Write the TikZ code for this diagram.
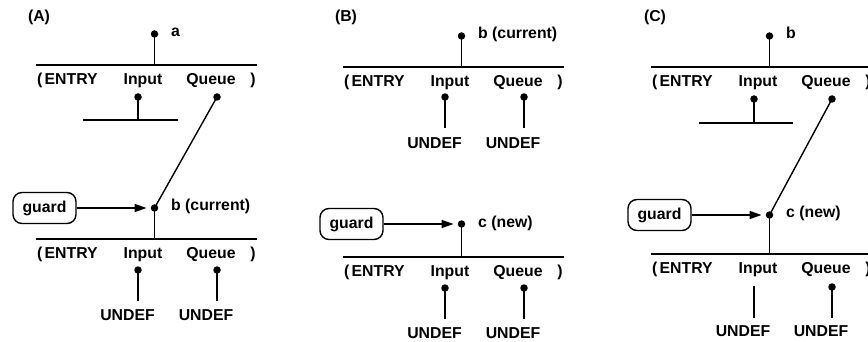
\documentclass[tikz,border=0pt]{standalone}
\usepackage{fontspec}
\setmainfont{Liberation Sans}
\usetikzlibrary{arrows.meta}

\tikzset{
  dot/.style={circle,fill,inner sep=0pt,minimum size=7.5pt},
  txt/.style={inner sep=0pt,font=\fontsize{15.8}{19}\selectfont\bfseries},
  wire/.style={line width=1.4pt},
  guardbox/.style={draw,line width=1.4pt,rounded corners=9pt,minimum width=63pt,
    minimum height=31pt,inner sep=0pt,font=\fontsize{15.8}{19}\selectfont\bfseries},
  arr/.style={line width=1.4pt,-{Triangle[length=12pt,width=8pt]},shorten >=4pt},
}

% One record: the bar with its field names underneath.
% #1 = name prefix, #2 = y of the bar
\newcommand\recrow[2]{%
  \coordinate (#1L) at (36,#2);
  \coordinate (#1R) at (257,#2);
  \draw[wire] (#1L) -- (#1R);
  \node[txt,anchor=base west] (#1po) at (37,{#2+19.5}) {(};
  \node[txt,anchor=base west] (#1en) at (44.5,{#2+19.5}) {ENTRY};
  \node[txt,anchor=base] (#1in) at (143,{#2+19.5}) {Input};
  \node[txt,anchor=base] (#1qu) at (211,{#2+19.5}) {Queue};
  \node[txt,anchor=base] (#1pc) at (253,{#2+19.5}) {)};
}

\begin{document}
\begin{tikzpicture}[x=1pt,y=-1pt]
\useasboundingbox (0,0) rectangle (868,342);

% ---------------- (A) ----------------
\begin{scope}
  \node[txt,anchor=base] (Alab) at (39,22) {(A)};
  \node[dot] (Aa) at (154.5,34) {};
  \node[txt,anchor=base west] (Aalab) at (171,37) {a};
  \recrow{Aone}{65}
  \draw[wire] (Aa.center) -- (Aa.center |- AoneL);
  \node[dot] (Aonein) at (138,97) {};
  \node[dot] (Aoneq) at (217,97) {};
  \coordinate (Asubl) at (83,120);
  \coordinate (Asubr) at (178,120);
  \draw[wire] (Asubl) -- (Asubr);
  \draw[wire] (Aonein.center) -- (Aonein.center |- Asubl);
  \node[dot] (Ab) at (154.5,208) {};
  \draw[wire] (Aoneq.center) -- (Ab.center);
  \node[guardbox] (Ag) at (44.5,208) {guard};
  \draw[arr] (Ag) -- (Ab);
  \node[txt,anchor=base west] (Ablab) at (171,211) {b (current)};
  \recrow{Atwo}{239}
  \draw[wire] (Ab.center) -- (Ab.center |- AtwoL);
  \node[dot] (Atwoin) at (138,270) {};
  \node[dot] (Atwoq) at (217,270) {};
  \coordinate (Atwoie) at (138,301);
  \coordinate (Atwoqe) at (217,301);
  \draw[wire] (Atwoin.center) -- (Atwoie);
  \draw[wire] (Atwoq.center) -- (Atwoqe);
  \node[txt,anchor=base] (Au1) at (127.5,320.5) {UNDEF};
  \node[txt,anchor=base] (Au2) at (206,320.5) {UNDEF};
\end{scope}

% ---------------- (B) ----------------
\begin{scope}[xshift=307pt]
  \node[txt,anchor=base] (Blab) at (39,22) {(B)};
  \node[dot] (Bb) at (154.5,36) {};
  \node[txt,anchor=base west] (Bblab) at (171,39) {b (current)};
  \recrow{Bone}{67}
  \draw[wire] (Bb.center) -- (Bb.center |- BoneL);
  \node[dot] (Bonein) at (138,97) {};
  \node[dot] (Boneq) at (217,97) {};
  \coordinate (Boneie) at (138,128);
  \coordinate (Boneqe) at (217,128);
  \draw[wire] (Bonein.center) -- (Boneie);
  \draw[wire] (Boneq.center) -- (Boneqe);
  \node[txt,anchor=base] (Bu1) at (127.5,148.5) {UNDEF};
  \node[txt,anchor=base] (Bu2) at (206,148.5) {UNDEF};

  \node[dot] (Bc) at (154.5,224) {};
  \node[guardbox] (Bg) at (44.5,224) {guard};
  \draw[arr] (Bg) -- (Bc);
  \node[txt,anchor=base west] (Bclab) at (171,227) {c (new)};
  \recrow{Btwo}{257}
  \draw[wire] (Bc.center) -- (Bc.center |- BtwoL);
  \node[dot] (Btwoin) at (138,288) {};
  \node[dot] (Btwoq) at (217,288) {};
  \coordinate (Btwoie) at (138,319);
  \coordinate (Btwoqe) at (217,319);
  \draw[wire] (Btwoin.center) -- (Btwoie);
  \draw[wire] (Btwoq.center) -- (Btwoqe);
  \node[txt,anchor=base] (Bu3) at (127.5,338.5) {UNDEF};
  \node[txt,anchor=base] (Bu4) at (206,338.5) {UNDEF};
\end{scope}

% ---------------- (C) ----------------
\begin{scope}[xshift=615pt]
  \node[txt,anchor=base] (Clab) at (40,22) {(C)};
  \node[dot] (Cb) at (154.5,36) {};
  \node[txt,anchor=base west] (Cblab) at (171,39) {b};
  \recrow{Cone}{67}
  \draw[wire] (Cb.center) -- (Cb.center |- ConeL);
  \node[dot] (Conein) at (139,99) {};
  \node[dot] (Coneq) at (217,99) {};
  \coordinate (Csubl) at (84,123);
  \coordinate (Csubr) at (178,123);
  \draw[wire] (Csubl) -- (Csubr);
  \draw[wire] (Conein.center) -- (Conein.center |- Csubl);
  \node[dot] (Cc) at (154.5,215) {};
  \draw[wire] (Coneq.center) -- (Cc.center);
  \node[guardbox] (Cg) at (44.5,215) {guard};
  \draw[arr] (Cg) -- (Cc);
  \node[txt,anchor=base west] (Cclab) at (171,218) {c (new)};
  \recrow{Ctwo}{254}
  \draw[wire] (Cc.center) -- (Cc.center |- CtwoL);
  \coordinate (Ctwoin) at (139,286);
  \node[dot] (Ctwoq) at (217,287) {};
  \coordinate (Ctwoie) at (139,318);
  \coordinate (Ctwoqe) at (217,318);
  \draw[wire] (Ctwoin) -- (Ctwoie);
  \draw[wire] (Ctwoq.center) -- (Ctwoqe);
  \node[txt,anchor=base] (Cu1) at (128,336.5) {UNDEF};
  \node[txt,anchor=base] (Cu2) at (206,336.5) {UNDEF};
\end{scope}
\end{tikzpicture}
\end{document}
